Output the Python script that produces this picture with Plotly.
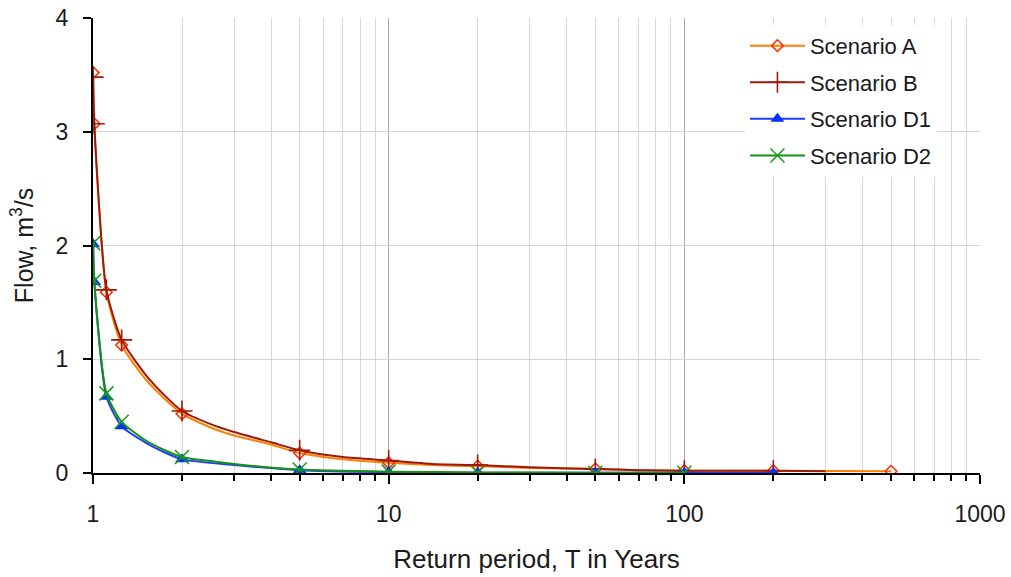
import plotly.graph_objects as go

# Return periods (years) for line vertices
T_A = [1.001, 1.01, 1.11, 1.25, 1.5, 1.75, 2, 2.5, 3, 4, 5, 7, 10, 14, 20, 30, 50, 70, 100, 200, 500]
Q_A = [3.52, 3.07, 1.59, 1.125, 0.83, 0.65, 0.52, 0.40, 0.33, 0.25, 0.175, 0.12, 0.09, 0.07, 0.06, 0.045, 0.035, 0.025, 0.02, 0.02, 0.015]

T_B = [1.001, 1.01, 1.11, 1.25, 1.5, 1.75, 2, 2.5, 3, 4, 5, 7, 10, 14, 20, 30, 50, 70, 100, 200, 300]
Q_B = [3.48, 3.07, 1.61, 1.17, 0.87, 0.68, 0.545, 0.43, 0.36, 0.27, 0.20, 0.14, 0.11, 0.08, 0.07, 0.05, 0.035, 0.025, 0.02, 0.02, 0.015]

T_D1 = [1.001, 1.01, 1.11, 1.25, 1.5, 1.75, 2, 3, 5, 10, 20, 50, 100, 200]
Q_D1 = [2.01, 1.68, 0.67, 0.41, 0.27, 0.18, 0.12, 0.07, 0.025, 0.008, 0.003, 0.002, 0.002, 0.001]

T_D2 = [1.001, 1.01, 1.11, 1.25, 1.5, 1.75, 2, 3, 5, 10, 20, 50, 100]
Q_D2 = [2.02, 1.69, 0.70, 0.45, 0.29, 0.20, 0.14, 0.08, 0.03, 0.012, 0.005, 0.003, 0.002]

# Return periods that carry a marker
MARKED_T = [1.001, 1.01, 1.11, 1.25, 2, 5, 10, 20, 50, 100, 200, 500]

X_TICKS = [1, 10, 100, 1000]
X_TICK_LABELS = ["1", "10", "100", "1000"]
Y_TICKS = [0, 1, 2, 3, 4]

series = [
    dict(name="Scenario A", T=T_A, Q=Q_A, line="#ff8000", mcol="#ff2a00",
         symbol="diamond-open", msize=9, mline=1.5),
    dict(name="Scenario B", T=T_B, Q=Q_B, line="#9c1a0a", mcol="#9c1a0a",
         symbol="cross-thin-open", msize=15, mline=1.6),
    dict(name="Scenario D1", T=T_D1, Q=Q_D1, line="#1f3cff", mcol="#0030ff",
         symbol="triangle-up", msize=12, mline=0),
    dict(name="Scenario D2", T=T_D2, Q=Q_D2, line="#159115", mcol="#169c16",
         symbol="x-thin-open", msize=14, mline=1.5),
]

fig = go.Figure()
for s in series:
    mx = [t for t in s["T"] if t in MARKED_T]
    my = [q for t, q in zip(s["T"], s["Q"]) if t in MARKED_T]
    marker = dict(symbol=s["symbol"], size=s["msize"], color=s["mcol"],
                  line=dict(color=s["mcol"], width=s["mline"]))
    fig.add_trace(go.Scatter(x=s["T"], y=s["Q"], mode="lines",
                             line=dict(color=s["line"], width=2, shape="spline", smoothing=0.6),
                             showlegend=False, legendgroup=s["name"], hoverinfo="skip"))
    fig.add_trace(go.Scatter(x=mx, y=my, mode="markers", marker=marker,
                             showlegend=False, legendgroup=s["name"], name=s["name"]))
    # legend entry
    fig.add_trace(go.Scatter(x=[None], y=[None], mode="lines+markers", name=s["name"],
                             line=dict(color=s["line"], width=2), marker=marker,
                             legendgroup=s["name"], showlegend=True))

fig.update_layout(
    width=1011, height=577,
    margin=dict(l=93, r=31, t=18, b=104),
    paper_bgcolor="white", plot_bgcolor="white",
    font=dict(family="Liberation Sans, Arial, sans-serif", size=23, color="#1a1a1a"),
    legend=dict(x=0.735, y=0.985, xanchor="left", yanchor="top",
                bgcolor="white", borderwidth=0, font=dict(size=22),
                traceorder="grouped", tracegroupgap=5, itemwidth=55),
    xaxis=dict(type="log", range=[0, 3], tickvals=X_TICKS, ticktext=X_TICK_LABELS,
               automargin=False,
               showgrid=True, gridcolor="#a9a9a9", gridwidth=1,
               showline=True, linecolor="black", linewidth=2,
               ticks="outside", ticklen=9, tickcolor="black", tickwidth=2,
               ticklabelstandoff=10,
               minor=dict(dtick="D1", showgrid=True, gridcolor="#d6d6d6",
                          ticks="outside", ticklen=6, tickcolor="black", tickwidth=1.5),
               title=dict(text="Return period, T in Years", standoff=24, font=dict(size=26)),
               zeroline=False),
    yaxis=dict(range=[0, 4], tickvals=Y_TICKS, automargin=False,
               showgrid=True, gridcolor="#d4d4d4", gridwidth=1,
               showline=True, linecolor="black", linewidth=2,
               ticks="outside", ticklen=8, tickcolor="black", tickwidth=2,
               ticklabelstandoff=10,
               title=dict(text="Flow, m<sup>3</sup>/s", standoff=15, font=dict(size=25)),
               zeroline=False),
)

fig.write_html("out.html", config={"displayModeBar": False},
               post_script="document.body.style.margin='0';")
